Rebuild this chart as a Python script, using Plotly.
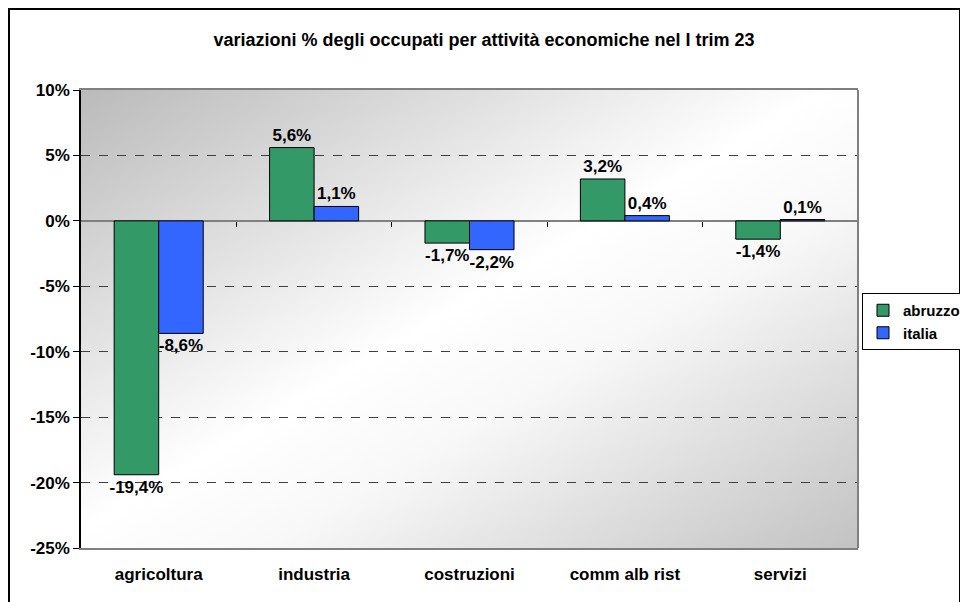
import base64
import plotly.graph_objects as go

categories = ["agricoltura", "industria", "costruzioni", "comm alb rist", "servizi"]
abruzzo = [-19.4, 5.6, -1.7, 3.2, -1.4]
italia = [-8.6, 1.1, -2.2, 0.4, 0.1]
y_ticks = [10, 5, 0, -5, -10, -15, -20, -25]
y_min, y_max = -25, 10

def pct(v):
    return ("%.1f%%" % v).replace(".", ",")

FONT = "Liberation Sans, Arial, sans-serif"

svg = (
    '<svg xmlns="http://www.w3.org/2000/svg" width="100" height="100" preserveAspectRatio="none">'
    '<defs><linearGradient id="g" x1="0" y1="0" x2="1" y2="1">'
    '<stop offset="0" stop-color="#bababa"/>'
    '<stop offset="0.48" stop-color="#ffffff"/>'
    '<stop offset="0.62" stop-color="#f8f8f8"/>'
    '<stop offset="1" stop-color="#c2c2c2"/>'
    '</linearGradient></defs>'
    '<rect x="0" y="0" width="100" height="100" fill="url(#g)"/></svg>'
)
bg_src = "data:image/svg+xml;base64," + base64.b64encode(svg.encode()).decode()

label_font = dict(family=FONT, size=17, color="#000000", weight="bold")

fig = go.Figure()
fig.add_trace(go.Bar(
    name="abruzzo", x=categories, y=abruzzo,
    marker=dict(color="#339966", line=dict(color="#000000", width=1)),
    text=[pct(v) for v in abruzzo], textposition="outside",
    textfont=label_font, constraintext="none", cliponaxis=False,
))
fig.add_trace(go.Bar(
    name="italia", x=categories, y=italia,
    marker=dict(color="#3366FF", line=dict(color="#000000", width=1)),
    text=[pct(v) for v in italia], textposition="outside",
    textfont=label_font, constraintext="none", cliponaxis=False,
))
# invisible trace to host the category-boundary tick axis on the zero line
fig.add_trace(go.Scatter(x=[None], y=[None], xaxis="x2", showlegend=False, hoverinfo="skip"))

# the page body has an 8px margin, so the figure is 8px smaller and margins shifted
fig.update_layout(
    width=960, height=594,
    margin=dict(l=73, r=110, t=82, b=54, autoexpand=False),
    paper_bgcolor="#ffffff",
    plot_bgcolor="rgba(0,0,0,0)",
    barmode="group", bargap=0.427, bargroupgap=0,
    font=dict(family=FONT, size=17, color="#000000"),
    title=dict(
        text="<b>variazioni % degli occupati per attività economiche nel I trim 23</b>",
        x=(484 - 8) / 960, xref="container", xanchor="center",
        y=1 - 32 / 594, yref="container", yanchor="middle",
        font=dict(family=FONT, size=18, color="#000000"),
    ),
    xaxis=dict(
        showgrid=False, ticks="", showline=True, linecolor="#808080", linewidth=1.5,
        mirror=True,
        tickfont=dict(family=FONT, size=17, color="#000000", weight="bold"),
        ticklabelstandoff=10,
    ),
    xaxis2=dict(
        overlaying="x", anchor="free",
        position=(0 - y_min) / (y_max - y_min),
        range=[-0.5, len(categories) - 0.5],
        tickvals=[i + 0.5 for i in range(len(categories) - 1)],
        ticks="outside", ticklen=5, tickcolor="#000000", tickwidth=1,
        showticklabels=False, showgrid=False, showline=False, zeroline=False,
    ),
    yaxis=dict(
        range=[y_min, y_max],
        tickvals=y_ticks, ticktext=[("%d%%" % v) for v in y_ticks],
        showgrid=True, gridcolor="#404040", gridwidth=1, griddash="dash",
        zeroline=True, zerolinecolor="#808080", zerolinewidth=2,
        showline=True, linecolor="#000000", linewidth=1.5,
        ticks="outside", ticklen=6, tickcolor="#000000",
        tickfont=dict(family=FONT, size=17, color="#000000", weight="bold"),
    ),
    legend=dict(
        x=(862 - 81) / 777, y=(548 - 293) / 458, xanchor="left", yanchor="top",
        bgcolor="#ffffff", bordercolor="#000000", borderwidth=1,
        font=dict(family=FONT, size=15, color="#000000", weight="bold"),
        itemwidth=30, tracegroupgap=0,
    ),
    images=[dict(
        source=bg_src, xref="paper", yref="paper", x=0, y=1,
        sizex=1, sizey=1, sizing="stretch", layer="below",
        xanchor="left", yanchor="top",
    )],
    shapes=[
        dict(type="line", xref="paper", yref="paper", x0=1, x1=1, y0=0, y1=1,
             line=dict(color="#808080", width=2)),
        dict(type="rect", xref="paper", yref="paper",
             x0=(9 - 81) / 777, x1=(960 - 81) / 777,
             y0=(548 - 620) / 458, y1=(548 - 9) / 458,
             line=dict(color="#000000", width=2)),
    ],
    showlegend=True,
)

fig.write_html("out.html")
